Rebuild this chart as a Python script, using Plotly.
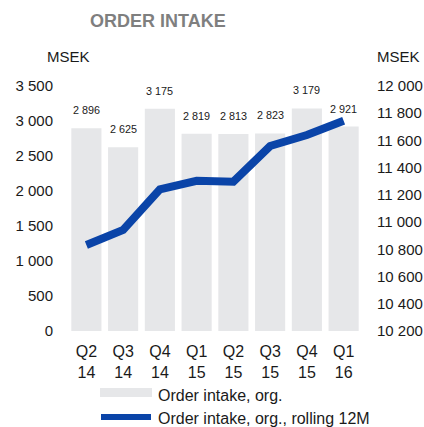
import plotly.graph_objects as go

categories = ["Q2<br>14", "Q3<br>14", "Q4<br>14", "Q1<br>15", "Q2<br>15", "Q3<br>15", "Q4<br>15", "Q1<br>16"]
order_intake = [2896, 2625, 3175, 2819, 2813, 2823, 3179, 2921]
rolling_12m = [10832, 10942, 11241, 11304, 11297, 11559, 11640, 11745]
left_ticks = [0, 500, 1000, 1500, 2000, 2500, 3000, 3500]
right_ticks = [10200, 10400, 10600, 10800, 11000, 11200, 11400, 11600, 11800, 12000]

def fmt(v):
    return f"{v:,}".replace(",", " ")

FONT = "Liberation Sans, Arial, sans-serif"
BAR_C = "#e6e7e9"
LINE_C = "#0a44a8"
TXT = "#1a1a1a"

W, H = 424, 427
L, R, T, B = 68, 62, 86, 96

fig = go.Figure()
fig.add_trace(go.Bar(x=categories, y=order_intake, marker=dict(color=BAR_C, line=dict(width=0)),
                     name="Order intake, org.", showlegend=False, hoverinfo="skip"))
fig.add_trace(go.Scatter(x=categories, y=rolling_12m, yaxis="y2", mode="lines",
                         line=dict(color=LINE_C, width=8), name="Order intake, org., rolling 12M",
                         showlegend=False))

annotations = []
for c, v in zip(categories, order_intake):
    annotations.append(dict(x=c, y=v, xref="x", yref="y", text=fmt(v), showarrow=False,
                            yshift=18, font=dict(size=10.8, color=TXT, family=FONT)))

fig.update_layout(
    width=W, height=H,
    margin=dict(l=L, r=R, t=T, b=B, autoexpand=False),
    paper_bgcolor="white", plot_bgcolor="white",
    bargap=0.18,
    font=dict(family=FONT, size=15, color=TXT),
    xaxis=dict(showgrid=False, zeroline=False, showline=False, ticks="", tickfont=dict(size=16),
               ticklabelstandoff=9, automargin=False),
    yaxis=dict(range=[0, 3500], tickvals=left_ticks, ticktext=[fmt(t) for t in left_ticks],
               showgrid=False, zeroline=False, showline=False, ticks="", ticklabelstandoff=14,
               automargin=False),
    yaxis2=dict(range=[10200, 12000], tickvals=right_ticks, ticktext=[fmt(t) for t in right_ticks],
                overlaying="y", side="right", showgrid=False, zeroline=False, showline=False,
                ticks="", ticklabelstandoff=14, automargin=False),
    showlegend=False,
)

pw, ph = W - L - R, H - T - B
def px(x):
    return (x - L) / pw
def py(y):
    return (H - B - y) / ph

fixed = [
    dict(text="<b>ORDER INTAKE</b>", x=158, y=21, size=18, color="#7f7f7f"),
    dict(text="MSEK", x=68, y=57, size=15, color=TXT),
    dict(text="MSEK", x=398, y=57, size=15, color=TXT),
]
for f in fixed:
    annotations.append(dict(text=f["text"], x=px(f["x"]), y=py(f["y"]), xref="paper", yref="paper",
                            showarrow=False, xanchor="center", yanchor="middle",
                            font=dict(size=f["size"], color=f["color"], family=FONT)))
annotations.append(dict(text="Order intake, org.", x=px(156), y=py(395), xref="paper", yref="paper",
                        showarrow=False, xanchor="left", yanchor="middle", font=dict(size=16, color=TXT, family=FONT)))
annotations.append(dict(text="Order intake, org., rolling 12M", x=px(156), y=py(419), xref="paper", yref="paper",
                        showarrow=False, xanchor="left", yanchor="middle", font=dict(size=16, color=TXT, family=FONT)))

shapes = [
    dict(type="rect", xref="paper", yref="paper", x0=px(100), x1=px(152), y0=py(397), y1=py(388),
         fillcolor=BAR_C, line=dict(width=0)),
    dict(type="line", xref="paper", yref="paper", x0=px(101), x1=px(151), y0=py(417), y1=py(417),
         line=dict(color=LINE_C, width=6)),
]
fig.update_layout(annotations=annotations, shapes=shapes)

fig.write_html("out.html", config={"displayModeBar": False},
               post_script="document.body.style.margin='0';document.body.style.overflow='hidden';")
